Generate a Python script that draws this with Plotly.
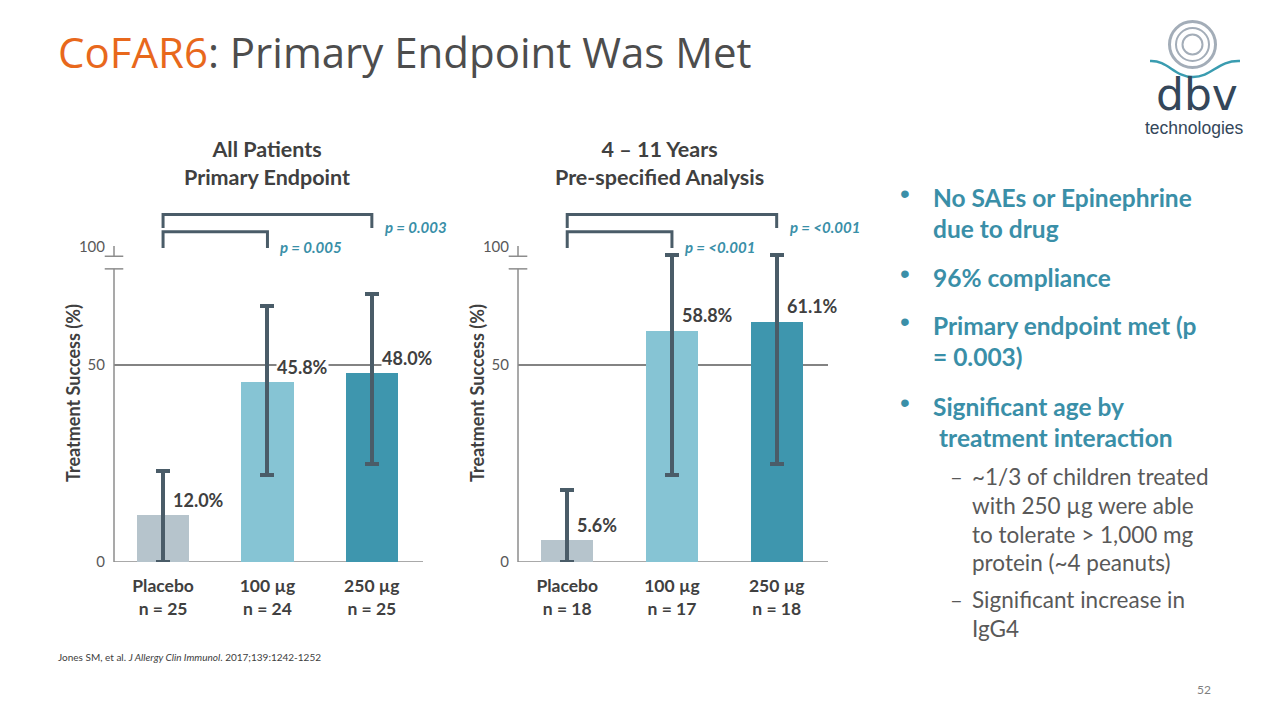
import plotly.graph_objects as go

# ---------------- data ----------------
categories = ["Placebo", "100 µg", "250 µg"]
n_all = [25, 24, 25]
n_young = [18, 17, 18]
success_all = [12.0, 45.8, 48.0]
success_young = [5.6, 58.8, 61.1]
ci_upper_all = [23.0, 65.0, 68.0]
ci_lower_all = [0.0, 22.0, 25.0]
ci_upper_young = [18.3, 78.0, 78.0]
ci_lower_young = [0.0, 22.0, 25.0]
p_all = ["p = 0.005", "p = 0.003"]
p_young = ["p = <0.001", "p = <0.001"]
bar_colors = ["#B6C4CC", "#86C4D4", "#3E96AE"]
ytick_vals = [0, 50, 80]
ytick_text = ["0", "50", "100"]

FONT = "Lato"
DARK = "#404040"
SLATE = "#4A5C68"
TEAL = "#3A8FA8"
AXIS = "#8C8C8C"

H = 712.0  # effective rendered height used for pixel -> paper conversion


def py(y):
    return 1 - y / H


def px(x):
    return x / 1280


fig = go.Figure()

panels = [
    dict(xa="x", ya="y", xd=[px(114), px(423)], vals=success_all, up=ci_upper_all,
         lo=ci_lower_all, n=n_all, p=p_all,
         title="All Patients<br>Primary Endpoint", tx=267),
    dict(xa="x2", ya="y2", xd=[px(518), px(828)], vals=success_young, up=ci_upper_young,
         lo=ci_lower_young, n=n_young, p=p_young,
         title="4 – 11 Years<br>Pre-specified Analysis", tx=659),
]

YMAX = 92
ybot = py(562)
ytop = ybot + YMAX * (197 / 50) / H

annotations = []
shapes = []
for i, pnl in enumerate(panels):
    xs = list(range(len(categories)))
    fig.add_trace(go.Bar(
        x=xs, y=pnl["vals"], width=0.5, marker=dict(color=bar_colors, line=dict(width=0)),
        error_y=dict(type="data", symmetric=False,
                     array=[u - v for u, v in zip(pnl["up"], pnl["vals"])],
                     arrayminus=[v - l for v, l in zip(pnl["vals"], pnl["lo"])],
                     color=SLATE, thickness=4, width=7),
        xaxis=pnl["xa"], yaxis=pnl["ya"], showlegend=False, hoverinfo="skip"))
    xref, yref = pnl["xa"], pnl["ya"]
    xdref = xref + " domain"
    # reference line at 50
    shapes.append(dict(type="line", xref=xdref, yref=yref, x0=0, x1=1, y0=50, y1=50,
                       line=dict(color="#5A5A5A", width=1.5), layer="below"))
    # axes lines with break
    shapes.append(dict(type="line", xref=xdref, yref=yref, x0=0, x1=1, y0=0, y1=0,
                       line=dict(color=AXIS, width=1.5), layer="below"))
    shapes.append(dict(type="line", xref=xdref, yref=yref, x0=0, x1=0, y0=0, y1=74.4,
                       line=dict(color=AXIS, width=1.5), layer="below"))
    shapes.append(dict(type="line", xref=xdref, yref=yref, x0=-0.03, x1=0.03, y0=74.4, y1=74.4,
                       line=dict(color=AXIS, width=1.5)))
    shapes.append(dict(type="line", xref=xdref, yref=yref, x0=-0.03, x1=0.03, y0=77.6, y1=77.6,
                       line=dict(color=AXIS, width=1.5)))
    shapes.append(dict(type="line", xref=xdref, yref=yref, x0=0, x1=0, y0=77.6, y1=80.2,
                       line=dict(color=AXIS, width=1.5)))
    # significance brackets
    for j, (xr, top, leg) in enumerate([(1, 83.8, 79.7), (2, 88.2, 84.8)]):
        shapes.append(dict(type="path", xref=xref, yref=yref,
                           path=f"M 0,{leg} L 0,{top} L {xr},{top} L {xr},{leg}",
                           line=dict(color=SLATE, width=3)))
        annotations.append(dict(x=xr, y=leg, xref=xref, yref=yref, text=f"<i>{pnl['p'][j]}</i>",
                                showarrow=False, xanchor="left", yanchor="middle", xshift=11, yshift=1,
                                font=dict(family=FONT, size=15, color=TEAL, weight="bold")))
    # value labels
    for k, v in enumerate(pnl["vals"]):
        annotations.append(dict(x=k, y=v, xref=xref, yref=yref, text=f"{v:.1f}%",
                                showarrow=False, xanchor="left", yanchor="bottom", xshift=9, yshift=3,
                                bgcolor="white", borderpad=0,
                                font=dict(family=FONT, size=18, color=DARK, weight="bold")))
    # panel title
    annotations.append(dict(x=px(pnl["tx"]), y=py(163), xref="paper", yref="paper",
                            text=pnl["title"], showarrow=False, xanchor="center", yanchor="middle",
                            font=dict(family=FONT, size=21.5, color=DARK, weight="bold")))
    # y axis title
    annotations.append(dict(x=px(pnl["xd"][0] * 1280 - 41), y=py(393), xref="paper", yref="paper",
                            text="Treatment Success (%)", textangle=-90, showarrow=False,
                            xanchor="center", yanchor="middle",
                            font=dict(family=FONT, size=18, color=DARK, weight="bold")))

    ticktext = [f"{c}<br>n = {n}" for c, n in zip(categories, pnl["n"])]
    axkey = "xaxis" if i == 0 else "xaxis2"
    aykey = "yaxis" if i == 0 else "yaxis2"
    fig.layout[axkey] = dict(domain=pnl["xd"], range=[-0.47, 2.49], showgrid=False, zeroline=False,
                             showline=False, tickvals=xs, ticktext=ticktext, ticks="outside",
                             ticklen=8, tickcolor="rgba(0,0,0,0)", fixedrange=True,
                             tickfont=dict(family=FONT, size=17.5, color=DARK, weight="bold"),
                             anchor=yref)
    fig.layout[aykey] = dict(domain=[ybot, ytop], range=[0, YMAX], showgrid=False, zeroline=False,
                             showline=False, tickvals=ytick_vals, ticktext=ytick_text,
                             ticks="outside", ticklen=5, tickcolor="rgba(0,0,0,0)",
                             tickfont=dict(family=FONT, size=15, color="#595959"), anchor=xref)

# ---------------- slide title ----------------
annotations.append(dict(x=px(56), y=py(52), xref="paper", yref="paper",
                        text="<span style='color:#E8681C'>CoFAR6</span>: Primary Endpoint Was Met",
                        showarrow=False, xanchor="left", yanchor="middle",
                        font=dict(family="Open Sans", size=42, color="#4D4D4D")))

# ---------------- bullets ----------------
bullet_lines = [
    ("•", 197, "No SAEs or Epinephrine"), (None, 229, "due to drug"),
    ("•", 277, "96% compliance"),
    ("•", 325, "Primary endpoint met (p"), (None, 356, "= 0.003)"),
    ("•", 406, "Significant age by"), (None, 437, " treatment interaction"),
]
for b, yy, txt in bullet_lines:
    if b:
        annotations.append(dict(x=px(905), y=py(yy - 4), xref="paper", yref="paper", text=b,
                                showarrow=False, xanchor="center", yanchor="middle",
                                font=dict(family="Arial", size=28, color=TEAL)))
    annotations.append(dict(x=px(931) + (0.005 if txt.startswith(" ") else 0), y=py(yy),
                            xref="paper", yref="paper", text=txt.strip(),
                            showarrow=False, xanchor="left", yanchor="middle",
                            font=dict(family=FONT, size=24.5, color=TEAL, weight="bold")))
sub_lines = [
    ("–", 476, "~1/3 of children treated"), (None, 505, "with 250 µg were able"),
    (None, 534, "to tolerate > 1,000 mg"), (None, 562, "protein (~4 peanuts)"),
    ("–", 599, "Significant increase in"), (None, 628, "IgG4"),
]
for b, yy, txt in sub_lines:
    if b:
        annotations.append(dict(x=px(956), y=py(yy), xref="paper", yref="paper", text=b,
                                showarrow=False, xanchor="center", yanchor="middle",
                                font=dict(family=FONT, size=22, color="#595959")))
    annotations.append(dict(x=px(970), y=py(yy), xref="paper", yref="paper", text=txt,
                            showarrow=False, xanchor="left", yanchor="middle",
                            font=dict(family=FONT, size=22.5, color="#595959")))

# ---------------- footnote & page number ----------------
annotations.append(dict(x=px(56), y=py(657), xref="paper", yref="paper",
                        text="Jones SM, et al. <i>J Allergy Clin Immunol</i>. 2017;139:1242-1252",
                        showarrow=False, xanchor="left", yanchor="middle",
                        font=dict(family=FONT, size=10, color=DARK)))
annotations.append(dict(x=px(1213), y=py(689), xref="paper", yref="paper", text="52",
                        showarrow=False, xanchor="right", yanchor="middle",
                        font=dict(family=FONT, size=12, color="#7F7F7F")))

# ---------------- logo ----------------
cx, cy = 1192.5, 44.5
for r, w in [(23, 3), (16.5, 2), (10, 2)]:
    shapes.append(dict(type="circle", xref="paper", yref="paper",
                       x0=px(cx - r), x1=px(cx + r), y0=py(cy + r), y1=py(cy - r),
                       line=dict(color="#A3ADB8", width=w)))


def P(x, y):
    return f"{px(x):.5f},{py(y):.5f}"


shapes.append(dict(type="path", xref="paper", yref="paper",
                   path=f"M {P(1150, 61)} C {P(1168, 60)} {P(1174, 77)} {P(1193, 77)} "
                        f"C {P(1212, 77)} {P(1218, 60)} {P(1240, 61)}",
                   line=dict(color="#3A9CB0", width=2.5)))
annotations.append(dict(x=px(1197), y=py(95), xref="paper", yref="paper", text="dbv",
                        showarrow=False, xanchor="center", yanchor="middle",
                        font=dict(family="DejaVu Sans", size=44, color="#34475A")))
annotations.append(dict(x=px(1194), y=py(128), xref="paper", yref="paper", text="technologies",
                        showarrow=False, xanchor="center", yanchor="middle",
                        font=dict(family="Liberation Sans", size=17.5, color="#34475A")))

fig.update_layout(width=1280, height=720, margin=dict(l=0, r=0, t=0, b=0),
                  paper_bgcolor="white", plot_bgcolor="white", bargap=0,
                  annotations=annotations, shapes=shapes)

fig.write_html("out.html", config={"displayModeBar": False})
